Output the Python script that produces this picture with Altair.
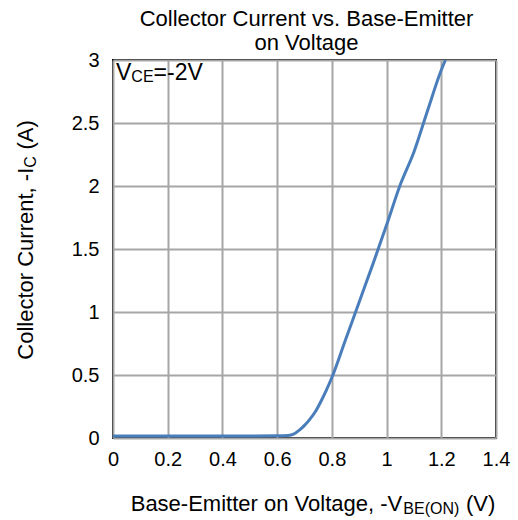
import altair as alt
import pandas as pd

# ---- data ----
vbe = [0.0, 0.1, 0.2, 0.3, 0.4, 0.5, 0.6, 0.64, 0.66, 0.68, 0.70, 0.72, 0.74,
       0.76, 0.78, 0.80, 0.85, 0.90, 0.95, 1.00, 1.05, 1.10, 1.15, 1.20, 1.215]
ic = [0.015, 0.015, 0.015, 0.016, 0.016, 0.016, 0.017, 0.02, 0.03, 0.06, 0.10,
      0.15, 0.21, 0.29, 0.38, 0.48, 0.78, 1.08, 1.38, 1.69, 2.01, 2.27, 2.60,
      2.92, 3.0]
x_ticks = [0, 0.2, 0.4, 0.6, 0.8, 1.0, 1.2, 1.4]
y_ticks = [0, 0.5, 1, 1.5, 2, 2.5, 3]
title_lines = ["Collector Current vs. Base-Emitter", "on Voltage"]
# (text, kind, extra gap before the piece in em of the main size)
x_title = [("Base-Emitter on Voltage, -V", "main", 0), ("BE(ON)", "sub", 0), ("(V)", "main", 0.3)]
y_title = [("Collector Current, -I", "main", 0), ("C", "sub", 0), ("(A)", "main", 0.3)]
note = [("V", "main", 0), ("CE", "sub", 0), ("=-2V", "main", 0)]

FONT = "Liberation Sans"
W, H = 383, 378
LINE_COLOR = "#4a7ebb"

# Arial/Liberation Sans advance widths (per 1000 em)
CW = {'a': 556, 'b': 556, 'c': 500, 'd': 556, 'e': 556, 'f': 278, 'g': 556, 'h': 556,
      'i': 222, 'j': 222, 'k': 500, 'l': 222, 'm': 833, 'n': 556, 'o': 556, 'p': 556,
      'q': 556, 'r': 333, 's': 500, 't': 278, 'u': 556, 'v': 500, 'w': 722, 'x': 500,
      'y': 500, 'z': 500, 'A': 667, 'B': 667, 'C': 722, 'E': 667, 'I': 278, 'N': 722,
      'O': 778, 'V': 667, ' ': 278, '-': 333, '(': 333, ')': 333, ',': 278,
      '.': 278, '=': 584, '2': 556}


def tw(s, size):
    return sum(CW.get(c, 556) for c in s) * size / 1000.0


def rich_text(pieces, ax, ay, size, sub_size, sub_dy, angle=0, center=True):
    sizes = [size if kind == "main" else sub_size for _, kind, _ in pieces]
    total = sum(tw(t, s) + g * size for (t, _, g), s in zip(pieces, sizes))
    off = -total / 2 if center else 0.0
    layers = []
    for (t, kind, g), s in zip(pieces, sizes):
        off += g * size
        kw = dict(align="left", baseline="alphabetic", font=FONT, fontSize=s,
                  color="black", dx=off, dy=(sub_dy if kind == "sub" else 0))
        if angle:
            kw["angle"] = angle
        layers.append(
            alt.Chart(pd.DataFrame({"t": [t]})).mark_text(**kw).encode(
                x=alt.value(ax), y=alt.value(ay), text="t:N"))
        off += tw(t, s)
    return layers


df = pd.DataFrame({"vbe": vbe, "ic": ic})

line = alt.Chart(df).mark_line(color=LINE_COLOR, strokeWidth=3, interpolate="monotone").encode(
    x=alt.X("vbe:Q", scale=alt.Scale(domain=[0, 1.4], nice=False, zero=False),
            axis=alt.Axis(values=x_ticks, format=".1~f", title=None, grid=True, ticks=False,
                          domain=False, labelFontSize=20, labelFont=FONT, labelColor="black",
                          labelPadding=11, labelFlush=False, labelOverlap=False,
                          gridColor="#a6a6a6", gridWidth=2)),
    y=alt.Y("ic:Q", scale=alt.Scale(domain=[0, 3], nice=False),
            axis=alt.Axis(values=y_ticks, format=".1~f", title=None, grid=True, ticks=False,
                          domain=False, labelFontSize=20, labelFont=FONT, labelColor="black",
                          labelPadding=14, labelFlush=False, labelOverlap=False,
                          gridColor="#a6a6a6", gridWidth=2)),
)

layers = [line]
# chart title (two centred lines above the plot)
layers.append(alt.Chart(pd.DataFrame({"t": [title_lines[0]]})).mark_text(
    align="center", baseline="alphabetic", font=FONT, fontSize=22, color="black").encode(
    x=alt.value(W / 2 + 2), y=alt.value(-34), text="t:N"))
layers.append(alt.Chart(pd.DataFrame({"t": [title_lines[1]]})).mark_text(
    align="center", baseline="alphabetic", font=FONT, fontSize=22, color="black").encode(
    x=alt.value(W / 2 + 2), y=alt.value(-10), text="t:N"))
# axis titles with subscripts
layers += rich_text(x_title, 200, 451, 22, 16, 3)
layers += rich_text(y_title, -80, 180, 22, 16, 3, angle=270)
# V_CE annotation
layers += rich_text(note, 3, 20, 23, 16, 2, center=False)

chart = alt.layer(*layers).properties(
    width=W, height=H,
    autosize=alt.AutoSizeParams(type="none"),
    padding={"left": 113, "top": 60, "right": 22, "bottom": 82},
    background="white",
).configure_view(stroke="black", strokeWidth=2)

chart.save("out.html", embed_options={"renderer": "svg", "actions": False})
